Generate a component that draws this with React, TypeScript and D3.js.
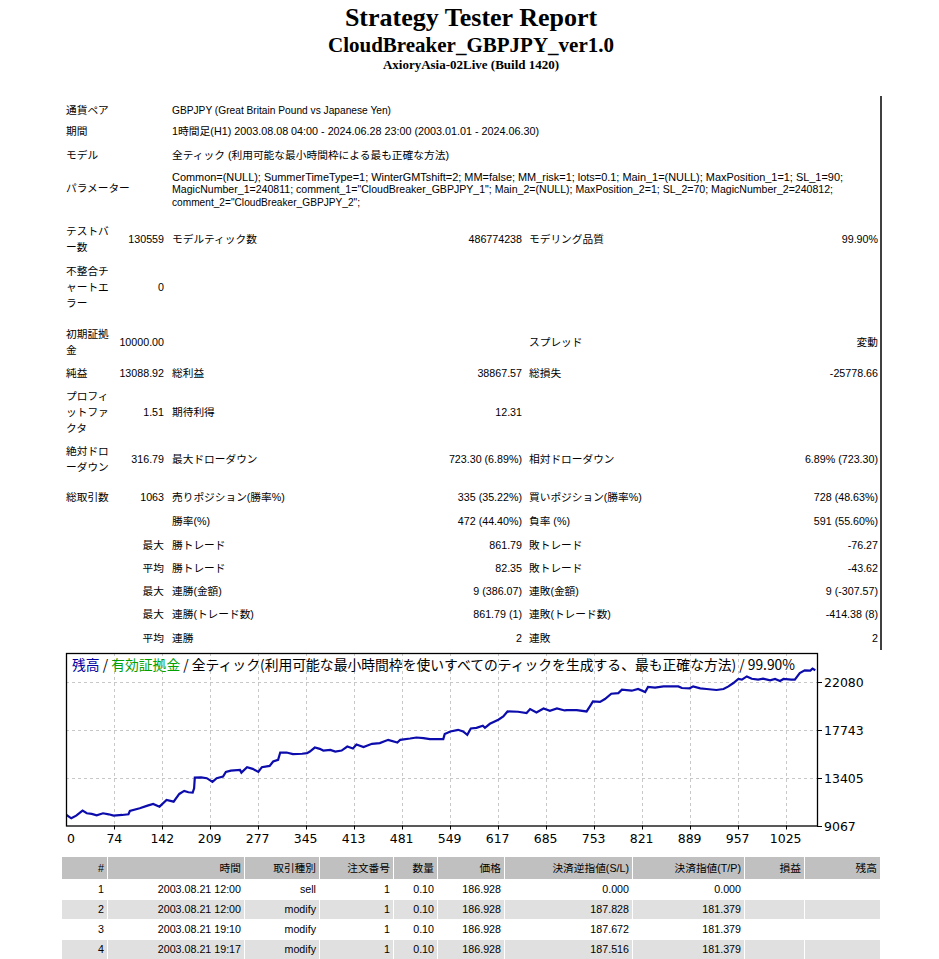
import React from 'react';
import * as d3 from 'd3';

// ---- chart data ----
const balanceTrade = [0,6,13,20,29,35,42,49,58,66,73,85,94,96,110,121,129,138,148,158,166,173,179,185,187,188,197,205,213,219,228,232,239,252,254,262,270,278,283,294,299,306,309,318,327,340,347,351,358,365,370,380,387,396,404,412,417,427,439,450,462,475,479,493,502,512,521,540,542,550,561,568,574,579,587,596,599,606,618,625,631,646,658,663,672,682,691,701,712,715,729,743,747,752,762,769,778,788,793,807,816,826,830,840,852,873,878,889,894,904,913,927,937,944,951,958,963,970,977,986,993,1003,1010,1017,1022,1033,1038,1045,1052,1060,1063,1067];
const balanceValue = [10050,10030,9720,9956,10409,10173,10120,9992,10173,10080,9956,10020,10083,10382,10627,10863,11017,10772,11380,11225,11923,12195,12078,12041,12440,13400,13420,13347,13012,13347,13492,13918,14037,14100,13855,14345,14190,13918,14345,14463,14853,15007,15669,15669,15524,15560,15614,15760,16122,16004,15850,15914,15760,15850,16213,16032,16395,16159,16458,16521,16820,16576,16820,16939,17029,16975,16884,16884,17338,17573,17727,17573,17274,17845,17900,18090,17900,18271,18634,18933,19387,19360,19242,19604,19297,19659,19450,19659,19478,19510,19510,19387,19786,20294,20250,20510,20992,21050,21355,21264,21420,21145,21600,21540,21655,21655,21509,21480,21655,21480,21420,21330,21420,21655,21962,22325,22265,22560,22350,22265,22350,22200,22325,22145,22325,22265,22265,22868,23110,23080,23260,23110];
const xTickLabels = [0,74,142,209,277,345,413,481,549,617,685,753,821,889,957,1025];
const yTickValues = [9067,13405,17743,22080];
const chartTitleParts = ['残高', ' / ', '有効証拠金', ' / 全ティック(利用可能な最小時間枠を使いすべてのティックを生成する、最も正確な方法) / 99.90%'];

// ---- report text ----
const reportTitle = 'Strategy Tester Report';
const reportSubtitle = 'CloudBreaker_GBPJPY_ver1.0';
const reportServer = 'AxioryAsia-02Live (Build 1420)';
const infoLabels = ['通貨ペア', '期間', 'モデル', 'パラメーター'];
const infoValues = [
  'GBPJPY (Great Britain Pound vs Japanese Yen)',
  '1時間足(H1) 2003.08.08 04:00 - 2024.06.28 23:00 (2003.01.01 - 2024.06.30)',
  '全ティック (利用可能な最小時間枠による最も正確な方法)',
];
const paramLines = [
  'Common=(NULL); SummerTimeType=1; WinterGMTshift=2; MM=false; MM_risk=1; lots=0.1; Main_1=(NULL); MaxPosition_1=1; SL_1=90;',
  'MagicNumber_1=240811; comment_1="CloudBreaker_GBPJPY_1"; Main_2=(NULL); MaxPosition_2=1; SL_2=70; MagicNumber_2=240812;',
  'comment_2="CloudBreaker_GBPJPY_2";',
];
const statLabel1 = [['テストバ','ー数'], ['不整合チ','ャートエ','ラー'], ['初期証拠','金'], ['純益'], ['プロフィ','ットファ','クタ'], ['絶対ドロ','ーダウン'], ['総取引数'], [], [], [], [], [], []];
const statValue1 = ['130559', '0', '10000.00', '13088.92', '1.51', '316.79', '1063', '', '最大', '平均', '最大', '最大', '平均'];
const statLabel2 = ['モデルティック数', '', '', '総利益', '期待利得', '最大ドローダウン', '売りポジション(勝率%)', '勝率(%)', '勝トレード', '勝トレード', '連勝(金額)', '連勝(トレード数)', '連勝'];
const statValue2 = ['486774238', '', '', '38867.57', '12.31', '723.30 (6.89%)', '335 (35.22%)', '472 (44.40%)', '861.79', '82.35', '9 (386.07)', '861.79 (1)', '2'];
const statLabel3 = ['モデリング品質', '', 'スプレッド', '総損失', '', '相対ドローダウン', '買いポジション(勝率%)', '負率 (%)', '敗トレード', '敗トレード', '連敗(金額)', '連敗(トレード数)', '連敗'];
const statValue3 = ['99.90%', '', '変動', '-25778.66', '', '6.89% (723.30)', '728 (48.63%)', '591 (55.60%)', '-76.27', '-43.62', '9 (-307.57)', '-414.38 (8)', '2'];

const tableHeaders = ['#', '時間', '取引種別', '注文番号', '数量', '価格', '決済逆指値(S/L)', '決済指値(T/P)', '損益', '残高'];
const tradeNo = ['1', '2', '3', '4'];
const tradeTime = ['2003.08.21 12:00', '2003.08.21 12:00', '2003.08.21 19:10', '2003.08.21 19:17'];
const tradeType = ['sell', 'modify', 'modify', 'modify'];
const tradeOrder = ['1', '1', '1', '1'];
const tradeLots = ['0.10', '0.10', '0.10', '0.10'];
const tradePrice = ['186.928', '186.928', '186.928', '186.928'];
const tradeSL = ['0.000', '187.828', '187.672', '187.516'];
const tradeTP = ['0.000', '181.379', '181.379', '181.379'];
const tradePL = ['', '', '', ''];
const tradeBal = ['', '', '', ''];

// ---- layout ----
const SANS = "'Liberation Sans', 'Noto Sans CJK JP', sans-serif";
const SERIF = "'Liberation Serif', 'DejaVu Serif', serif";
const FS = 10.7;
const infoY = [110, 131, 155, 188];
const infoWidths = [219, 367, 277];
const paramY = [177, 189.5, 202];
const paramWidths = [671, 661, 188];
const statCenters = [239, 287, 342, 373, 412, 459, 497, 521, 545, 568, 591, 614, 638];
const colEdges = [62, 108, 245, 320, 394, 438, 505, 633, 745, 805, 881];

export default function App() {
  const frame = { l: 66, t: 653, r: 817, b: 825.5 };
  const x = d3.scaleLinear().domain([0, 1067]).range([62.1, 815.3]);
  const y = d3.scaleLinear().domain([9067, 22080]).range([825.5, 681.7]);
  const line = d3.line<number>().x((_, i) => x(balanceTrade[i])).y((d) => y(d));
  const path = line(balanceValue) || '';

  const txt = (s: string, px: number, py: number, anchor: string = 'start', extra: any = {}) => (
    <text x={px} y={py + 3.8} textAnchor={anchor} fontFamily={SANS} fontSize={FS} fill="#000" {...extra}>{s}</text>
  );

  const rowsCols = [tradeNo, tradeTime, tradeType, tradeOrder, tradeLots, tradePrice, tradeSL, tradeTP, tradePL, tradeBal];

  return (
    <div style={{ position: 'absolute', left: 0, top: 0 }}>
      <svg width={939} height={959} style={{ display: 'block', background: '#fff' }}>
        <rect x={0} y={0} width={939} height={959} fill="#fff" />
        {/* headings */}
        <text x={471} y={26} textAnchor="middle" fontFamily={SERIF} fontWeight="bold" fontSize={26}>{reportTitle}</text>
        <text x={471} y={52} textAnchor="middle" fontFamily={SERIF} fontWeight="bold" fontSize={21}>{reportSubtitle}</text>
        <text x={471} y={69} textAnchor="middle" fontFamily={SERIF} fontWeight="bold" fontSize={13}>{reportServer}</text>

        {/* right border line */}
        <line x1={881} x2={881} y1={96} y2={650} stroke="#000" strokeWidth={1.5} />

        {/* info rows */}
        {infoLabels.map((l, i) => <g key={'il' + i}>{txt(l, 66, infoY[i])}</g>)}
        {infoValues.map((v, i) => <g key={'iv' + i}>{txt(v, 172, infoY[i], 'start', { textLength: infoWidths[i], lengthAdjust: 'spacingAndGlyphs' })}</g>)}
        {paramLines.map((v, i) => <g key={'pl' + i}>{txt(v, 172, paramY[i], 'start', { textLength: paramWidths[i], lengthAdjust: 'spacingAndGlyphs' })}</g>)}

        {/* stats */}
        {statCenters.map((c, i) => {
          const lines = statLabel1[i];
          return (
            <g key={'st' + i}>
              {lines.map((s, j) => <g key={j}>{txt(s, 66, c + (j - (lines.length - 1) / 2) * 16)}</g>)}
              {statValue1[i] && txt(statValue1[i], 164, c, 'end')}
              {statLabel2[i] && txt(statLabel2[i], 172, c)}
              {statValue2[i] && txt(statValue2[i], 522, c, 'end')}
              {statLabel3[i] && txt(statLabel3[i], 529, c)}
              {statValue3[i] && txt(statValue3[i], 878, c, 'end')}
            </g>
          );
        })}

        {/* chart */}
        <defs>
          <clipPath id="plotClip">
            <rect x={frame.l} y={frame.t} width={frame.r - frame.l} height={frame.b - frame.t} />
          </clipPath>
        </defs>
        {yTickValues.slice(1).map((v) => (
          <line key={'gy' + v} x1={frame.l} x2={frame.r} y1={Math.round(y(v)) + 0.5} y2={Math.round(y(v)) + 0.5} stroke="#c8c8c8" strokeDasharray="3,3" />
        ))}
        {xTickLabels.slice(1).map((v) => (
          <line key={'gx' + v} x1={Math.round(x(v)) + 0.5} x2={Math.round(x(v)) + 0.5} y1={frame.t} y2={frame.b} stroke="#c8c8c8" strokeDasharray="3,3" />
        ))}
        <path d={path} fill="none" stroke="#0c0cac" strokeWidth={2.2} strokeLinejoin="miter" clipPath="url(#plotClip)" />
        <rect x={frame.l + 0.5} y={frame.t + 0.5} width={frame.r - frame.l} height={frame.b - frame.t} fill="none" stroke="#000" strokeWidth={1.3} />
        {yTickValues.map((v) => (
          <g key={'yt' + v}>
            <line x1={frame.r} x2={frame.r + 5} y1={Math.round(y(v)) + 0.5} y2={Math.round(y(v)) + 0.5} stroke="#000" />
            <text x={824} y={y(v) + 5} fontFamily="'DejaVu Sans', sans-serif" fontSize={12.5} fill="#000">{v}</text>
          </g>
        ))}
        {xTickLabels.map((v) => (
          <g key={'xt' + v}>
            {v !== 0 && <line x1={Math.round(x(v)) + 0.5} x2={Math.round(x(v)) + 0.5} y1={frame.b} y2={frame.b + 4} stroke="#000" />}
            <text x={v === 0 ? 71 : x(v)} y={843} textAnchor="middle" fontFamily="'DejaVu Sans', sans-serif" fontSize={12.5} fill="#000">{v}</text>
          </g>
        ))}
        <text x={72} y={670} fontFamily="'Noto Sans CJK JP', sans-serif" fontSize={14} textLength={723} lengthAdjust="spacingAndGlyphs">
          <tspan fill="#0000a0">{chartTitleParts[0]}</tspan>
          <tspan fill="#000">{chartTitleParts[1]}</tspan>
          <tspan fill="#00a000">{chartTitleParts[2]}</tspan>
          <tspan fill="#000">{chartTitleParts[3]}</tspan>
        </text>

        {/* trades table */}
        {tableHeaders.map((h, c) => (
          <g key={'th' + c}>
            <rect x={colEdges[c]} y={857} width={colEdges[c + 1] - colEdges[c] - 1} height={22} fill="#c0c0c0" />
            {txt(h, colEdges[c + 1] - 4, 868, 'end')}
          </g>
        ))}
        {tradeNo.map((_, r) => (
          <g key={'tr' + r}>
            {rowsCols.map((col, c) => (
              <g key={c}>
                <rect x={colEdges[c]} y={880 + r * 20} width={colEdges[c + 1] - colEdges[c] - 1} height={19} fill={r % 2 === 1 ? '#e0e0e0' : '#fff'} />
                {col[r] && txt(col[r], colEdges[c + 1] - 4, 889 + r * 20, 'end')}
              </g>
            ))}
          </g>
        ))}
      </svg>
    </div>
  );
}
